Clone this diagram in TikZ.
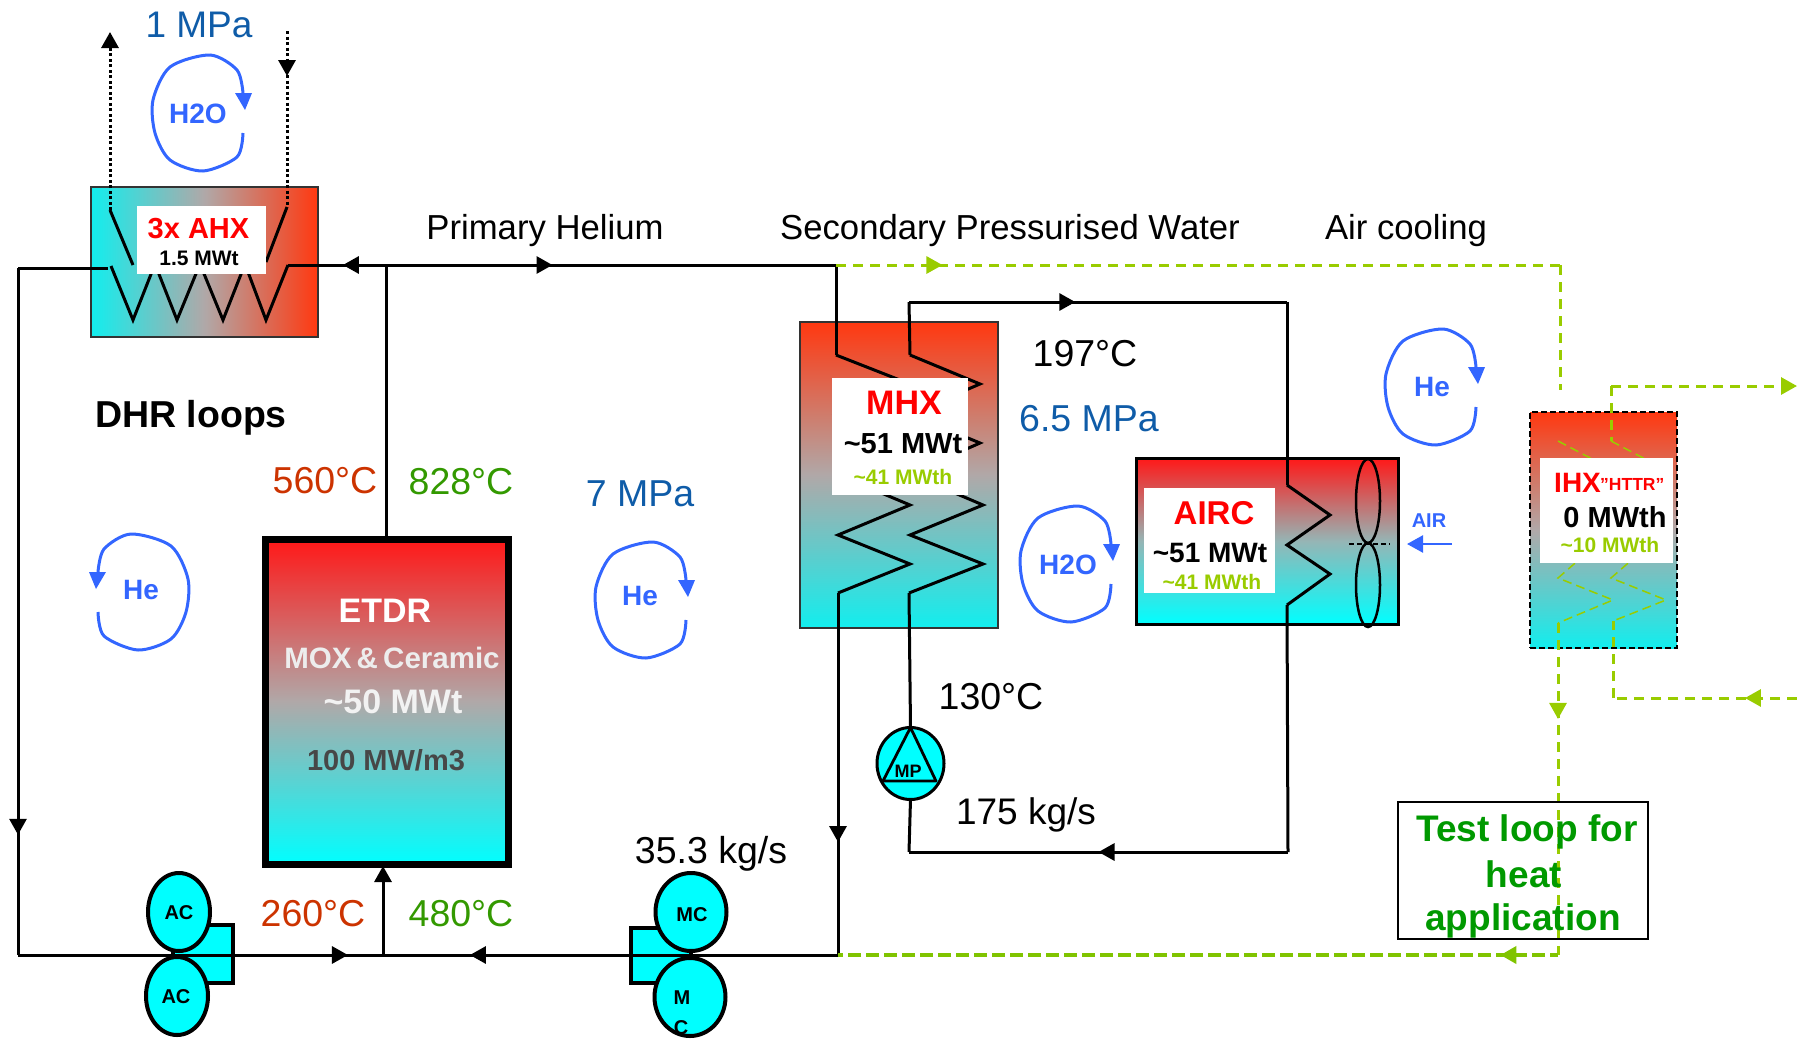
\documentclass[tikz,border=0pt]{standalone}
\usepackage{fontspec}
\setmainfont{Liberation Sans}
\usetikzlibrary{arrows.meta,decorations.markings,shapes.geometric}
\definecolor{hotR}{HTML}{FF3810}
\definecolor{hotS}{HTML}{FF1818}
\definecolor{coldC}{HTML}{12EEEE}
\definecolor{cyanF}{HTML}{00FFFF}
\definecolor{midG}{HTML}{B0A8A8}
\definecolor{flowB}{HTML}{3366FF}
\definecolor{pressB}{HTML}{0F5CA8}
\definecolor{tempR}{HTML}{CC3300}
\definecolor{tempG}{HTML}{339900}
\definecolor{limeG}{HTML}{99CC00}
\definecolor{limeD}{HTML}{80C400}
\definecolor{titleG}{HTML}{009900}
\tikzset{
  sz/.style={inner sep=0pt,font=\fontsize{#1}{#1}\selectfont},
  bsz/.style={inner sep=0pt,font=\fontsize{#1}{#1}\selectfont\bfseries},
  pipe/.style={draw=black,line width=3pt,line join=miter},
  coilline/.style={draw=black,line width=3pt},
  dotline/.style={draw=black,line width=3pt,dash pattern=on 3pt off 2.5pt},
  limeline/.style={draw=limeG,line width=3pt,dash pattern=on 10pt off 7pt},
  limethin/.style={draw=limeG,line width=1.5pt,dash pattern=on 9pt off 5pt},
  limebold/.style={draw=limeD,line width=4pt,dash pattern=on 13pt off 5pt,dash phase=5pt},
  tip/.style={-{Triangle[length=16pt,width=17pt]}},
  headat/.style={postaction={decorate,decoration={markings,mark=at position #1 with {\arrow{Triangle[length=16pt,width=17pt]}}}}},
  whitebox/.style={fill=white,draw=none,anchor=north west,inner sep=0pt,outer sep=0pt},
  exch/.style={anchor=north west,inner sep=0pt,outer sep=0pt},
  machine/.style={ellipse,draw=black,line width=4pt,fill=cyanF,inner sep=0pt,outer sep=0pt},
  flowloop/.pic={
    \draw[flowB,line width=3pt] plot[smooth] coordinates {(45,20)(39,44)(5,58)(-28,47)(-43,20)(-45,-13)(-28,-46)(12,-58)(39,-43)(45,-20)};
    \fill[flowB] (37,-20)--(54,-20)--(47,-3)--cycle;
  },
}
\begin{document}
\begin{tikzpicture}[x=1pt,y=-1pt]
\useasboundingbox (0,0) rectangle (1797,1039);

% --- exchangers
\node[exch,draw=black!80,line width=1.5pt,left color=coldC,right color=hotR,middle color=midG,minimum width=227pt,minimum height=150pt] (ahx) at (91,187) {};
\node[exch,draw=black!80,line width=1.5pt,top color=hotR,bottom color=coldC,middle color=midG,minimum width=198pt,minimum height=306pt] (mhx) at (800,322) {};
\node[exch,draw=black,line width=3pt,top color=hotS,bottom color=cyanF,middle color=midG!85!cyan,minimum width=262pt,minimum height=166pt] (airc) at (1136,458) {};
\node[exch,draw=black,line width=2.5pt,dash pattern=on 6pt off 3pt,top color=hotR,bottom color=coldC,middle color=midG,minimum width=147pt,minimum height=236pt] (ihx) at (1530,412) {};
\node[exch,draw=black,line width=7pt,top color=hotS,bottom color=cyanF,middle color=midG,minimum width=243pt,minimum height=325pt] (etdr) at (265,539) {};

% --- junctions and free ends
\coordinate (ahxR) at (288,265);
\coordinate (ahxL) at (108,268);
\coordinate (cornerTL) at (18,268);
\coordinate (cornerBL) at (18,955);
\coordinate (juncTop) at (386,265);
\coordinate (juncBot) at (383,955);
\coordinate (mhxIn) at (836,265);
\coordinate (mhxOut) at (838,955);
\coordinate (coil1a) at (836,355);
\coordinate (coil1z) at (838,593);
\coordinate (coil2a) at (910,355);
\coordinate (coil2z) at (909,593);
\coordinate (topW) at (909,302);
\coordinate (topE) at (1287,302);
\coordinate (botE) at (1288,852);
\coordinate (botW) at (909,852);
\coordinate (aircA) at (1287,485);
\coordinate (aircZ) at (1287,605);
\coordinate (ihxTopC) at (1560,265);
\coordinate (ihxTopE) at (1560,390);
\coordinate (ihxOutC) at (1611,386);
\coordinate (ihxOutE) at (1797,386);
\coordinate (ihxRetE) at (1797,698);
\coordinate (ihxRetC) at (1613,698);
\coordinate (ihxDn) at (1558,623);
\coordinate (ihxDnC) at (1558,955);

% --- machines' back plates
\node[exch,draw=black,line width=4pt,fill=cyanF,minimum width=60pt,minimum height=58pt] (acplate) at (173,925) {};
\node[exch,draw=black,line width=4pt,fill=cyanF,minimum width=60pt,minimum height=55pt] (mcplate) at (631,928) {};

% --- primary circuit
\draw[pipe,headat=0.44] (juncTop) -- (ahxR);
\draw[pipe,headat=0.37] (juncTop) -- (mhxIn);
\draw[pipe] (juncTop) -- (etdr.north -| juncTop);
\draw[pipe] (ahxL) -- (cornerTL);
\draw[pipe,headat=0.825] (cornerTL) -- (cornerBL);
\draw[pipe,headat=0.904] (cornerBL) -- (juncBot);
\draw[pipe,headat=0.809] (mhxOut) -- (juncBot);
\draw[pipe,tip] (juncBot) -- (383,866);
\draw[pipe] (mhxIn) -- (coil1a);
\draw[pipe,headat=0.688] (coil1z) -- (mhxOut);

% --- AHX coils and water
\draw[dotline,tip] (110,210) -- (110,32);
\draw[dotline,headat=0.256] (287,31) -- (287,207);
\draw[coilline] (110,210) -- (133,265);
\draw[coilline] (287,207) -- (266,262);
\draw[coilline] (ahxL) ++(3,-2) -- (133,320) -- (155,264) -- (177,320) -- (200,264) -- (223,320) -- (245,264) -- (266,320) -- (ahxR);

% --- MHX coils
\draw[coilline] (coil1a) -- (910,384) -- (836,414) -- (910,443) -- (836,474) -- (910,505) -- (838,535) -- (910,564) -- (coil1z);
\draw[coilline] (coil2a) -- (980,384) -- (910,414) -- (980,443) -- (910,474) -- (983,505) -- (910,535) -- (983,564) -- (coil2z);

% --- secondary circuit
\draw[pipe] (coil2a) -- (topW);
\draw[pipe,headat=0.44] (topW) -- (topE);
\draw[pipe] (topE) -- (aircA);
\draw[coilline] (aircA) -- (1330,515) -- (1287,545) -- (1330,574) -- (aircZ);
\draw[pipe] (aircZ) -- (botE);
\draw[pipe,headat=0.50] (botE) -- (botW);

% --- pump
\node[machine,line width=3pt,minimum width=67pt,minimum height=72pt] (mp) at (910.5,763.5) {};
\draw[pipe] (coil2z) -- (mp.north);
\draw[pipe] (mp.south) -- (botW);
\draw[draw=black,line width=2.8pt,line join=round] (mp.north) -- (883,781) -- (936,781) -- cycle;
\node[bsz=18] (mptxt) at (908,771) {MP};

% --- fan
\draw[black,line width=2.5pt] (1368,501) ellipse [x radius=12,y radius=42];
\draw[black,line width=2.5pt] (1368,585) ellipse [x radius=12,y radius=42];
\draw[black,line width=1.5pt,dash pattern=on 5pt off 3pt] (1349,544) -- (1390,544);

% --- machines
\node[machine,minimum width=62pt,minimum height=78pt] (ac1) at (179,912) {};
\node[machine,minimum width=62pt,minimum height=78pt] (ac2) at (177,996) {};
\node[machine,minimum width=71pt,minimum height=78pt] (mc1) at (691,912) {};
\node[machine,minimum width=71pt,minimum height=78pt] (mc2) at (690,997) {};
\node[bsz=20] (ac1t) at (179,913) {AC};
\node[bsz=20] (ac2t) at (176,997) {AC};
\node[bsz=20] (mc1t) at (692,915) {MC};
\node[bsz=20] (mc2t) at (682,998) {M};
\node[bsz=20] (mc3t) at (681,1028) {C};

% --- test loop (lime) circuit
\draw[limeline,headat=0.147] (mhxIn) -- (ihxTopC);
\draw[limeline] (ihxTopC) -- (ihxTopE);
\draw[limeline,tip] (ihxOutC) -- (ihxOutE);
\draw[limeline] (ihxOutC) -- (1611,441);
\draw[limeline,headat=0.283] (ihxRetE) -- (ihxRetC);
\draw[limeline] (ihxRetC) -- (1613,621);
\draw[limethin] (1558,441) -- (1613,470) -- (1558,500) -- (1613,530) -- (1558,578) -- (1613,600) -- (1558,623);
\draw[limethin] (1611,441) -- (1666,470) -- (1611,500) -- (1666,530) -- (1611,578) -- (1666,600) -- (1613,621);
\draw[limeline,headat=0.289] (ihxDn) -- (ihxDnC);
\draw[limebold,headat=0.08] (ihxDnC) -- (mhxOut);

% --- white labels
\node[whitebox,minimum width=129pt,minimum height=68pt] (ahxw) at (137,206) {};
\node[whitebox,minimum width=136pt,minimum height=117pt] (mhxw) at (832,378) {};
\node[whitebox,minimum width=131pt,minimum height=105pt] (aircw) at (1144,488) {};
\node[whitebox,minimum width=133pt,minimum height=105pt] (ihxw) at (1540,458) {};

\node[bsz=29,text=red] (ahxt) at (198.5,229) {3x AHX};
\node[bsz=21] (ahxp) at (199,258) {1.5 MWt};
\node[bsz=34,text=red] (mhxt) at (904,403) {MHX};
\node[bsz=29] (mhxp) at (903,444) {\textasciitilde 51 MWt};
\node[bsz=21,text=limeG] (mhxq) at (903,477) {\textasciitilde 41 MWth};
\node[bsz=33,text=red] (airct) at (1214,513) {AIRC};
\node[bsz=28] (aircp) at (1210,553) {\textasciitilde 51 MWt};
\node[bsz=21,text=limeG] (aircq) at (1212,582) {\textasciitilde 41 MWth};
\node[bsz=28,text=red,anchor=base west] (ihxt) at (1554,492) {IHX};
\node[bsz=17.5,text=red,anchor=base west] (ihxh) at (1600,490) {"HTTR"};
\node[bsz=29] (ihxp) at (1615,517) {0 MWth};
\node[bsz=21,text=limeG] (ihxq) at (1610,545) {\textasciitilde 10 MWth};

\node[bsz=34,text=white] (e1) at (385,611) {ETDR};
\node[bsz=29.5,text=white!93!black] (e2) at (392,658) {MOX\hspace{-3pt} \& \hspace{-3pt}Ceramic};
\node[bsz=34,text=white!95!black] (e3) at (393,702) {\textasciitilde 50 MWt};
\node[bsz=29,text=black!72] (e4) at (386,760) {100 MW/m3};

% --- flow loops
\pic at (198,113) {flowloop};
\pic[xscale=-1] at (143,592) {flowloop};
\pic at (641,600) {flowloop};
\pic at (1066,564) {flowloop};
\pic at (1431,387) {flowloop};
\node[bsz=28,text=flowB] (h2o1) at (198,114) {H2O};
\node[bsz=28,text=flowB] (he1) at (141,590) {He};
\node[bsz=28,text=flowB] (he2) at (640,596) {He};
\node[bsz=28,text=flowB] (h2o2) at (1068,565) {H2O};
\node[bsz=28,text=flowB] (he3) at (1432,387) {He};

% --- air
\node[bsz=20,text=flowB] (airt) at (1429,521) {AIR};
\coordinate (airS) at (1452,544);
\draw[flowB,line width=2.4pt,tip] (airS) -- (1407,544);

% --- free texts
\node[sz=37,text=pressB] (p1) at (199,25) {1 MPa};
\node[sz=34.7] (s1) at (545,231) {Primary Helium};
\node[sz=34.7] (s2) at (1010,231) {Secondary Pressurised Water};
\node[sz=34.7] (s3) at (1406,231) {Air cooling};
\node[bsz=37.5] (dhr) at (191,418) {DHR loops};
\node[sz=37.5,text=tempR] (t560) at (325,481) {560°C};
\node[sz=37.5,text=tempG] (t828) at (461,482) {828°C};
\node[sz=37.5,text=pressB] (p7) at (640,494) {7 MPa};
\node[sz=37.5,text=tempR] (t260) at (313,914) {260°C};
\node[sz=37.5,text=tempG] (t480) at (461,914) {480°C};
\node[sz=37.5] (f35) at (711,854) {35.3 kg/s};
\node[sz=37.5] (t197) at (1085,354) {197°C};
\node[sz=37.5,text=pressB] (p65) at (1089,419) {6.5 MPa};
\node[sz=37.5] (t130) at (991,697) {130°C};
\node[sz=37] (f175) at (1026,815) {175 kg/s};

% --- test loop box
\node[exch,draw=black,line width=2.5pt,minimum width=250pt,minimum height=137pt] (testbox) at (1398,802) {};
\node[bsz=37,text=titleG] (tl1) at (1527,832) {Test loop for};
\node[bsz=37,text=titleG] (tl2) at (1524,874) {heat};
\node[bsz=37,text=titleG] (tl3) at (1523,921) {application};
\end{tikzpicture}
\end{document}
